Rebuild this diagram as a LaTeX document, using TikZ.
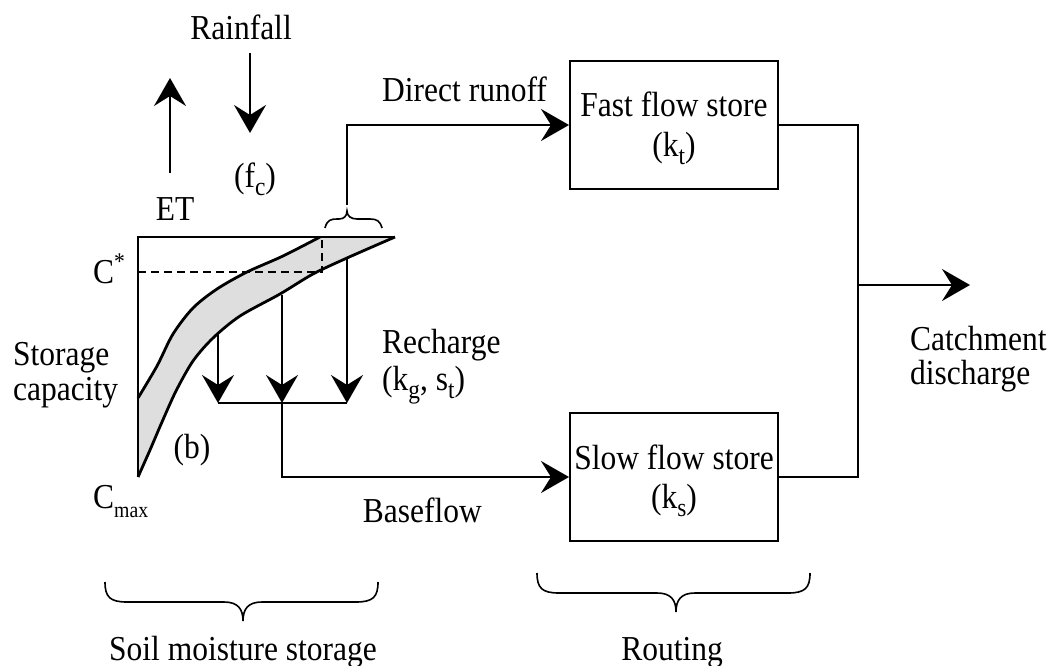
\documentclass[tikz,border=0pt]{standalone}
\usepackage{fontspec}
\setmainfont{Liberation Serif}[FakeStretch=0.9]
\usetikzlibrary{arrows.meta}
\newcommand{\lo}[1]{\raisebox{-0.24em}{\fontsize{26}{26}\selectfont #1}}
\newcommand{\los}[1]{\raisebox{-0.28em}{\fontsize{22}{22}\selectfont #1}}
\newcommand{\hi}[1]{\raisebox{0.40em}{\fontsize{24}{24}\selectfont #1}}
\begin{document}
\begin{tikzpicture}[x=1pt,y=-1pt,
  every node/.style={font=\fontsize{35}{38}\selectfont, inner sep=0pt},
  txt/.style={anchor=base},
  txtl/.style={anchor=base west},
  box/.style={draw, line width=2pt, minimum width=208pt, minimum height=128pt},
  conn/.style={line width=2pt},
  arr/.style={conn, -{Stealth[length=28pt,width=32pt,inset=10pt]}},
  thick line/.style={line width=2.8pt},
  brace line/.style={line width=1.6pt},
  shade/.style={fill=black!13}]
\useasboundingbox (0,0) rectangle (1054,666);

% --- soil moisture store: shaded band
\fill[shade] plot[smooth] coordinates {(320,237) (283,256) (247,272) (217,289) (193,308) (173,334) (157,366) (138,398)}
  -- plot[smooth] coordinates {(138,477) (150,450) (162,422) (176,391) (193,361) (213,338) (240,316) (280,294) (313,274) (347,258) (395,237)}
  -- cycle;
\draw[thick line] plot[smooth] coordinates {(320,237) (283,256) (247,272) (217,289) (193,308) (173,334) (157,366) (138,398)};
\draw[thick line] plot[smooth] coordinates {(138,477) (150,450) (162,422) (176,391) (193,361) (213,338) (240,316) (280,294) (313,274) (347,258) (395,237)};
\draw[thick line, line join=miter] (395,237) -- (138,237) -- (138,477);
\draw[conn, dash pattern=on 8pt off 5pt] (138,272) -- (322,272) -- (322,237);

% --- inputs
\node[txt] (rain) at (241,40) {Rainfall};
\coordinate (rainA) at (250,53);
\coordinate (rainB) at (250,133);
\draw[arr] (rainA) -- (rainB);
\coordinate (etA) at (170,173);
\coordinate (etB) at (170,78);
\draw[arr] (etA) -- (etB);
\node[txt] (fc) at (255,187) {(f\lo{c})};
\node[txt] (et) at (175,220) {ET};

% --- labels of the store
\node[txtl] (cstar) at (93,283) {C\hi{*}};
\node[txtl] (stor1) at (13,365) {Storage};
\node[txtl] (stor2) at (13,400) {capacity};
\node[txt] (bpar) at (192,458) {(b)};
\node[txtl] (cmax) at (93,508) {C\los{max}};

% --- small brace and direct runoff
\draw[brace line] (325,228) .. controls (327,220) and (331,219) .. (337,219)
  -- (339,219) .. controls (344,219) and (347,216) .. (347,211)
  .. controls (347,216) and (351,219) .. (357,219)
  -- (370,219) .. controls (377,219) and (380,221) .. (382,228);
\coordinate (dr) at (347,205);

\node[box] (fast) at (674,125) {};
\node[txt] (fastT) at (674,117) {Fast flow store};
\node[txt] (fastK) at (674,156) {(k\lo{t})};
\node[box] (slow) at (674,477) {};
\node[txt] (slowT) at (674,469) {Slow flow store};
\node[txt] (slowK) at (674,508) {(k\lo{s})};

\draw[arr] (dr) |- (fast.west);
\node[txtl] (drl) at (382,102) {Direct runoff};

% --- recharge
\coordinate (r1) at (218,332);
\coordinate (r2) at (282,295);
\coordinate (r3) at (347,259);
\coordinate (h1) at (218,403);
\coordinate (h2) at (282,403);
\coordinate (h3) at (347,403);
\draw[arr] (r1) -- (h1);
\draw[arr] (r2) -- (h2);
\draw[arr] (r3) -- (h3);
\draw[conn] (h1) -- (h3);
\draw[arr] (h2) |- (slow.west);
\node[txtl] (rech) at (382,353) {Recharge};
\node[txtl] (kg) at (382,390) {(k\lo{g}, s\lo{t})};
\node[anchor=base east] (basef) at (482,522) {Baseflow};

% --- outflow
\coordinate (jn) at (858,285);
\coordinate (out) at (970,285);
\draw[conn] (fast.east) -| (jn) |- (slow.east);
\draw[arr] (jn) -- (out);
\node[txtl] (catch1) at (910,350) {Catchment};
\node[txtl] (catch2) at (910,384) {discharge};

% --- bottom braces
\draw[brace line] (105,582) .. controls (105,597) and (110,602) .. (127,602)
  -- (224,602) .. controls (238,602) and (243,609) .. (243,621)
  .. controls (243,609) and (248,602) .. (262,602)
  -- (356,602) .. controls (373,602) and (378,597) .. (378,582);
\draw[brace line] (537,573) .. controls (537,588) and (542,593) .. (559,593)
  -- (657,593) .. controls (671,593) and (676,600) .. (676,612)
  .. controls (676,600) and (681,593) .. (695,593)
  -- (788,593) .. controls (805,593) and (810,588) .. (810,573);
\node[txt] (soil) at (243,660) {Soil moisture storage};
\node[txt] (rout) at (672,660) {Routing};
\end{tikzpicture}
\end{document}
